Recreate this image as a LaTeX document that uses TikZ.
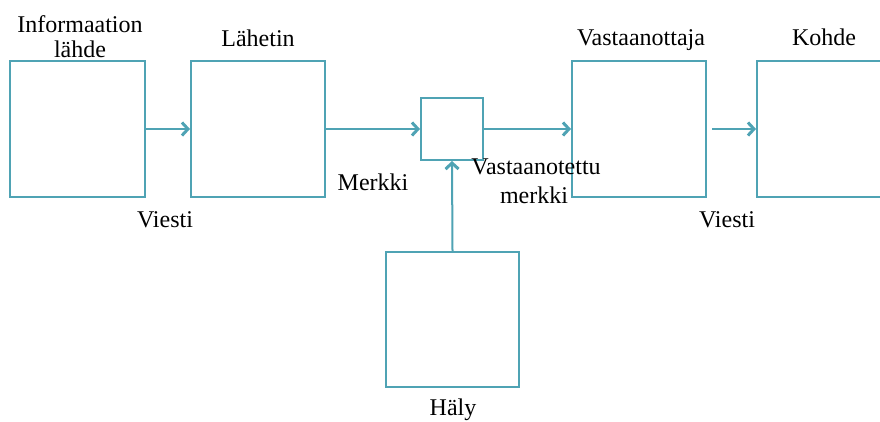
\documentclass[tikz,border=0pt]{standalone}
\usepackage{fontspec}
\setmainfont{Liberation Serif}
\usetikzlibrary{arrows.meta}
\definecolor{teal1}{HTML}{4FA3B4}
\begin{document}
\begin{tikzpicture}[x=1pt,y=-1pt,
  box/.style={draw=teal1, line width=2pt, fill=white, inner sep=0pt},
  conn/.style={draw=teal1, line width=2pt, -{Straight Barb[length=6pt,width=13pt,line width=3pt]}},
  lab/.style={anchor=base, inner sep=0pt, font=\fontsize{24}{28}\selectfont, text=black}]
\useasboundingbox (0,0) rectangle (880,421);
\fill[white] (0,0) rectangle (880,421);
\node[box, minimum width=135pt, minimum height=136pt] (src) at (77.5,129) {};
\node[box, minimum width=134pt, minimum height=136pt] (tx) at (258,129) {};
\node[box, minimum width=62pt, minimum height=62pt] (ch) at (452,129) {};
\node[box, minimum width=134pt, minimum height=136pt] (rx) at (639,129) {};
\node[box, minimum width=134pt, minimum height=136pt] (dst) at (824,129) {};
\node[box, minimum width=133pt, minimum height=135pt] (noise) at (452.5,319.5) {};
\draw[conn] (src.east) -- (tx.west);
\draw[conn] (tx.east) -- (ch.west);
\draw[conn] (ch.east) -- (rx.west);
\draw[conn, shorten <=5pt] (rx.east) -- (dst.west);
\draw[conn] (noise.north) -- (ch.south);
\node[lab] (t1) at (80,32) {Informaation};
\node[lab] (t2) at (80,57) {lähde};
\node[lab] (t3) at (258,46) {Lähetin};
\node[lab] (t4) at (641,45) {Vastaanottaja};
\node[lab] (t5) at (824,45) {Kohde};
\node[lab] (t6) at (165,227) {Viesti};
\node[lab] (t7) at (727,227) {Viesti};
\node[lab] (t8) at (373,190) {Merkki};
\node[lab] (t9) at (536,174) {Vastaanotettu};
\node[lab] (t10) at (534,203) {merkki};
\node[lab] (t11) at (453,415) {Häly};
\end{tikzpicture}
\end{document}
